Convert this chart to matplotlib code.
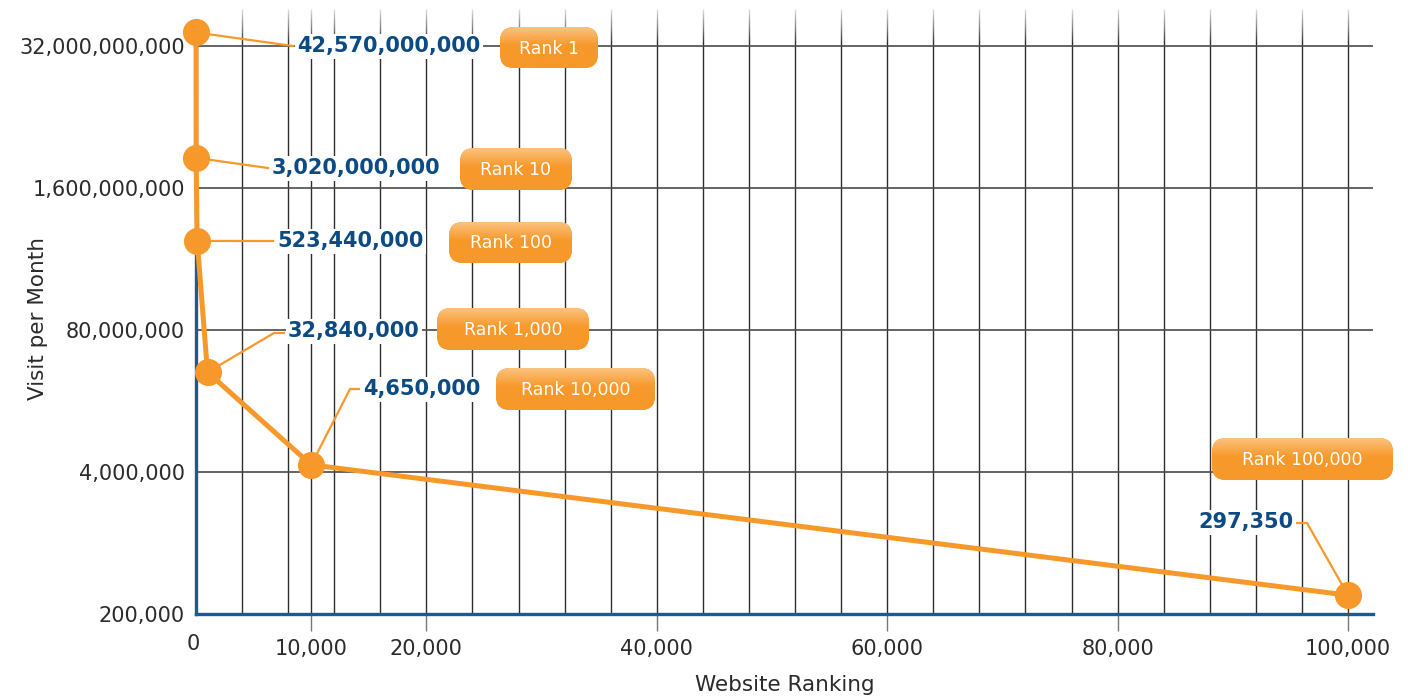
import numpy as np
import matplotlib
matplotlib.use("Agg")
import matplotlib.pyplot as plt
from matplotlib.patches import FancyBboxPatch, Rectangle
from matplotlib.lines import Line2D
from matplotlib.transforms import Affine2D, ScaledTranslation
from matplotlib.ticker import FixedLocator, FuncFormatter, NullLocator

# Monthly visits for websites at a given traffic rank
ranks = [1, 10, 100, 1000, 10000, 100000]
visits = [42570000000, 3020000000, 523440000, 32840000, 4650000, 297350]
rank_labels = ["Rank 1", "Rank 10", "Rank 100", "Rank 1,000", "Rank 10,000", "Rank 100,000"]

x_ticks = [0, 10000, 20000, 40000, 60000, 80000, 100000]
y_ticks = [200000, 4000000, 80000000, 1600000000, 32000000000]

ORANGE = "#f7982a"
NAVY = "#0b4a83"
AXIS_BLUE = "#1c5a92"
TEXT = "#2b2b2b"

W, H = 1408, 698
fig = plt.figure(figsize=(W / 100, H / 100), dpi=100)
ax = fig.add_axes([196 / W, (H - 614) / H, (1373 - 196) / W, (614 - 9) / H])
ax.set_yscale("log")
ax.set_xlim(0, 102170)
ax.set_ylim(2e5, 6.98e10)

# pixel coordinates measured from the top-left corner
px = Affine2D().scale(1, -1).translate(0, H)

# grid: vertical lines every 4,000 plus the 10,000 mark
grid_x = sorted(set(range(4000, 100001, 4000)) | {10000})
ax.vlines(grid_x, 0, 1, transform=ax.get_xaxis_transform(), color="#2e2e2e", lw=1.0, zorder=0.5)
ax.yaxis.grid(True, color="#4a4a4a", lw=1.2, zorder=0.5)
ax.set_axisbelow(True)

# fade the grid out toward the top edge with stacked white bands
n_bands = 16
band_h = 0.055 / n_bands
for k in range(n_bands):
    ax.add_patch(Rectangle((0, 1 - (k + 1) * band_h), 1, band_h, transform=ax.transAxes,
                           fc="white", ec="none", alpha=0.85 * (1 - k / n_bands),
                           zorder=1.5))

for side in ["top", "right"]:
    ax.spines[side].set_visible(False)
for side in ["left", "bottom"]:
    ax.spines[side].set_color(AXIS_BLUE)
    ax.spines[side].set_linewidth(2.4)
ax.spines["left"].set_bounds(2e5, visits[0])

ax.xaxis.set_major_locator(FixedLocator(x_ticks))
ax.xaxis.set_major_formatter(FuncFormatter(lambda v, p: f"{int(v):,}"))
ax.yaxis.set_major_locator(FixedLocator(y_ticks))
ax.yaxis.set_major_formatter(FuncFormatter(lambda v, p: f"{int(round(v)):,}"))
ax.yaxis.set_minor_locator(NullLocator())
ax.tick_params(axis="y", length=0, pad=8, labelsize=15, labelcolor=TEXT)
ax.tick_params(axis="x", direction="out", length=12, width=1.0, color="#777777",
               pad=6, labelsize=15, labelcolor=TEXT)

fig.canvas.draw()
first = ax.xaxis.get_major_ticks()[0]
first.tick1line.set_visible(False)
first.label1.set_transform(first.label1.get_transform()
                           + ScaledTranslation(-0.03, 0.05, fig.dpi_scale_trans))

# curve and rank markers
ax.plot(ranks, visits, color=ORANGE, lw=3.6, zorder=4, clip_on=False,
        solid_joinstyle="round", solid_capstyle="round")
ax.plot(ranks, visits, "o", ms=18.5, color=ORANGE, zorder=6, clip_on=False)

# callout layout (pixels from top-left)
label_pos = [(297, 46), (272, 168), (277, 241), (288, 331), (363, 389), (1198, 522)]
leader_bend = [None, None, None, (274, 333), (350, 389), (1307, 523)]
leader_end = [(293, 46), (268, 168), (273, 241), (284, 333), (359, 389), (1297, 523)]
boxes = [(500, 27, 98, 41), (460, 148, 112, 42), (449, 222, 123, 41),
         (437, 308, 152, 42), (496, 368, 159, 42), (1212, 438, 181, 42)]

grad = np.zeros((64, 2, 4))
top_col = np.array(matplotlib.colors.to_rgb("#fbc27f"))
base_col = np.array(matplotlib.colors.to_rgb(ORANGE))
t = np.clip(np.linspace(0, 1, 64) / 0.45, 0, 1)[:, None]
grad[..., :3] = (top_col * (1 - t) + base_col * t)[:, None, :]
grad[..., 3] = 1.0

for i, (r, v) in enumerate(zip(ranks, visits)):
    dx, dy = ax.transData.transform((r, v))
    pts = [(dx, H - dy)]
    if leader_bend[i] is not None:
        pts.append(leader_bend[i])
    pts.append(leader_end[i])
    xs, ys = zip(*pts)
    ax.add_line(Line2D(xs, ys, transform=px, color=ORANGE, lw=1.6, zorder=5,
                       clip_on=False, solid_joinstyle="round"))

    lx, ly = label_pos[i]
    ax.text(lx, ly, f"{v:,}", transform=px, ha="left", va="center", fontsize=15,
            fontweight="bold", color=NAVY, zorder=7, clip_on=False,
            bbox=dict(boxstyle="square,pad=0.12", fc="white", ec="none"))

    bx, by, bw, bh = boxes[i]
    patch = FancyBboxPatch((bx, by), bw, bh, boxstyle="round,pad=0,rounding_size=14",
                           transform=px, fc=ORANGE, ec="none", zorder=7, clip_on=False)
    ax.add_patch(patch)
    im = ax.imshow(grad, extent=[bx, bx + bw, by + bh, by], transform=px,
                   aspect="auto", origin="upper", zorder=7.5)
    im.set_clip_box(fig.bbox)
    im.set_clip_path(patch)
    ax.text(bx + bw / 2, by + bh / 2 + 1, rank_labels[i], transform=px, ha="center",
            va="center", fontsize=12.5, color="white", zorder=8, clip_on=False)

ax.set_xlim(0, 102170)
ax.set_ylim(2e5, 6.98e10)

fig.text(785 / W, 1 - 685 / H, "Website Ranking", ha="center", va="center",
         fontsize=15.5, color=TEXT)
fig.text(38 / W, 1 - 318 / H, "Visit per Month", ha="center", va="center",
         rotation=90, fontsize=15.5, color=TEXT)

fig.savefig("out.png", dpi=100, facecolor="white")
